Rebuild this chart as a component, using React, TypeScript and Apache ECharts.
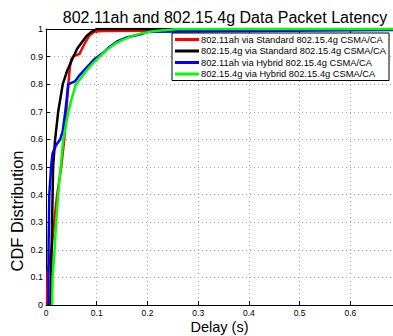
import React, { useEffect, useRef } from "react";
import * as echarts from "echarts";

const titleText = "802.11ah and 802.15.4g Data Packet Latency";
const seriesNames = [
  "802.11ah via Standard 802.15.4g CSMA/CA",
  "802.15.4g via Standard 802.15.4g CSMA/CA",
  "802.11ah via Hybrid 802.15.4g CSMA/CA",
  "802.15.4g via Hybrid 802.15.4g CSMA/CA",
];
const seriesColors = ["#ff0000", "#000000", "#0000ff", "#00ff00"];

const redX = [0.002, 0.003, 0.006, 0.011, 0.016, 0.022, 0.030, 0.036, 0.040, 0.044, 0.047, 0.050, 0.054, 0.060, 0.066, 0.070, 0.077, 0.085, 0.095, 0.11, 0.2, 0.3, 0.35, 0.7];
const redY = [0, 0.12, 0.15, 0.2, 0.3, 0.4, 0.5, 0.6, 0.7, 0.8, 0.86, 0.89, 0.9, 0.905, 0.91, 0.925, 0.95, 0.975, 0.99, 0.993, 0.994, 0.996, 1.0, 1.0];

const blackX = [0.009, 0.010, 0.012, 0.014, 0.018, 0.024, 0.033, 0.042, 0.054, 0.062, 0.070, 0.080, 0.090, 0.100, 0.7];
const blackY = [0, 0.1, 0.3, 0.5, 0.6, 0.7, 0.8, 0.85, 0.9, 0.93, 0.95, 0.975, 0.99, 1.0, 1.0];

const blueX = [0.005, 0.005, 0.0065, 0.010, 0.013, 0.020, 0.028, 0.033, 0.038, 0.044, 0.050, 0.057, 0.065, 0.080, 0.095, 0.110, 0.125, 0.140, 0.160, 0.185, 0.2, 0.4, 0.7];
const blueY = [0, 0.2, 0.4, 0.5, 0.55, 0.58, 0.6, 0.63, 0.7, 0.8, 0.805, 0.81, 0.83, 0.86, 0.89, 0.91, 0.935, 0.955, 0.97, 0.98, 0.99, 0.993, 0.997];

const greenX = [0.012, 0.013, 0.017, 0.020, 0.024, 0.029, 0.034, 0.044, 0.051, 0.059, 0.068, 0.080, 0.092, 0.106, 0.120, 0.135, 0.150, 0.170, 0.190, 0.215, 0.26, 0.7];
const greenY = [0, 0.1, 0.2, 0.3, 0.4, 0.5, 0.6, 0.7, 0.75, 0.8, 0.82, 0.85, 0.875, 0.9, 0.925, 0.945, 0.96, 0.975, 0.985, 0.993, 1.0, 1.0];

const xs = [redX, blackX, blueX, greenX];
const ys = [redY, blackY, blueY, greenY];

const FONT = "Liberation Sans, Arial, sans-serif";

export default function App() {
  const ref = useRef<HTMLDivElement>(null);
  useEffect(() => {
    if (!ref.current) return;
    const chart = echarts.init(ref.current, undefined, { renderer: "svg" });
    const gridLine = { show: true, lineStyle: { color: "#aaaaaa", type: [1, 3], width: 1 } };
    chart.setOption({
      animation: false,
      backgroundColor: "#ffffff",
      textStyle: { fontFamily: FONT },
      title: {
        text: titleText,
        left: 220,
        textAlign: "center",
        top: 4,
        textStyle: { fontFamily: FONT, fontSize: 16, fontWeight: "normal", color: "#000" },
      },
      legend: {
        orient: "vertical",
        left: 172,
        top: 33,
        backgroundColor: "#ffffff",
        borderColor: "#000",
        borderWidth: 1,
        borderRadius: 0,
        padding: [2, 3, 2, 3],
        itemGap: 2.5,
        itemWidth: 24,
        itemHeight: 3,
        icon: "rect",
        textStyle: { fontFamily: FONT, fontSize: 9.3, color: "#000", padding: [0, 0, 0, -3] },
        data: seriesNames,
      },
      grid: { left: 46, right: 0, top: 29, bottom: 31, containLabel: false, outerBoundsMode: "none" },
      xAxis: [
        {
          type: "value",
          min: 0,
          max: 0.684,
          interval: 0.1,
          name: "Delay (s)",
          nameLocation: "middle",
          nameGap: 14,
          nameMoveOverlap: false,
          nameTextStyle: { fontFamily: FONT, fontSize: 14.5, color: "#000", verticalAlign: "top" },
          axisLine: { show: true, lineStyle: { color: "#000", width: 1 } },
          axisTick: { show: true, inside: true, length: 4, lineStyle: { color: "#000" } },
          axisLabel: {
            fontFamily: FONT,
            fontSize: 8.5,
            color: "#000",
            margin: 3,
            showMaxLabel: false,
            formatter: (v: number) => String(Math.round(v * 10) / 10),
          },
          splitLine: gridLine,
        },
        {
          type: "value",
          position: "top",
          min: 0,
          max: 0.684,
          interval: 0.1,
          axisLine: { show: true, lineStyle: { color: "#000", width: 1 } },
          axisTick: { show: true, inside: true, length: 4, lineStyle: { color: "#000" } },
          axisLabel: { show: false },
          splitLine: { show: false },
        },
      ],
      yAxis: {
        type: "value",
        min: 0,
        max: 1,
        interval: 0.1,
        name: "CDF Distribution",
        nameLocation: "middle",
        nameGap: 21,
        nameMoveOverlap: false,
        nameTextStyle: { fontFamily: FONT, fontSize: 16.5, color: "#000", padding: [0, 88, 0, 0] },
        axisLine: { show: true, lineStyle: { color: "#000", width: 1 } },
        axisTick: { show: true, inside: true, length: 4, lineStyle: { color: "#000" } },
        axisLabel: {
          fontFamily: FONT,
          fontSize: 9,
          color: "#000",
          margin: 3,
          formatter: (v: number) => String(Math.round(v * 10) / 10),
        },
        splitLine: gridLine,
      },
      series: seriesNames.map((name, i) => ({
        name,
        type: "line",
        xAxisIndex: 0,
        showSymbol: false,
        symbol: "none",
        clip: true,
        color: seriesColors[i],
        lineStyle: { color: seriesColors[i], width: 2.5 },
        data: xs[i].map((x, j) => [x, ys[i][j]]),
      })),
    });
    return () => chart.dispose();
  }, []);
  return <div ref={ref} style={{ width: 393, height: 336, position: "absolute", left: 0, top: 0 }} />;
}
